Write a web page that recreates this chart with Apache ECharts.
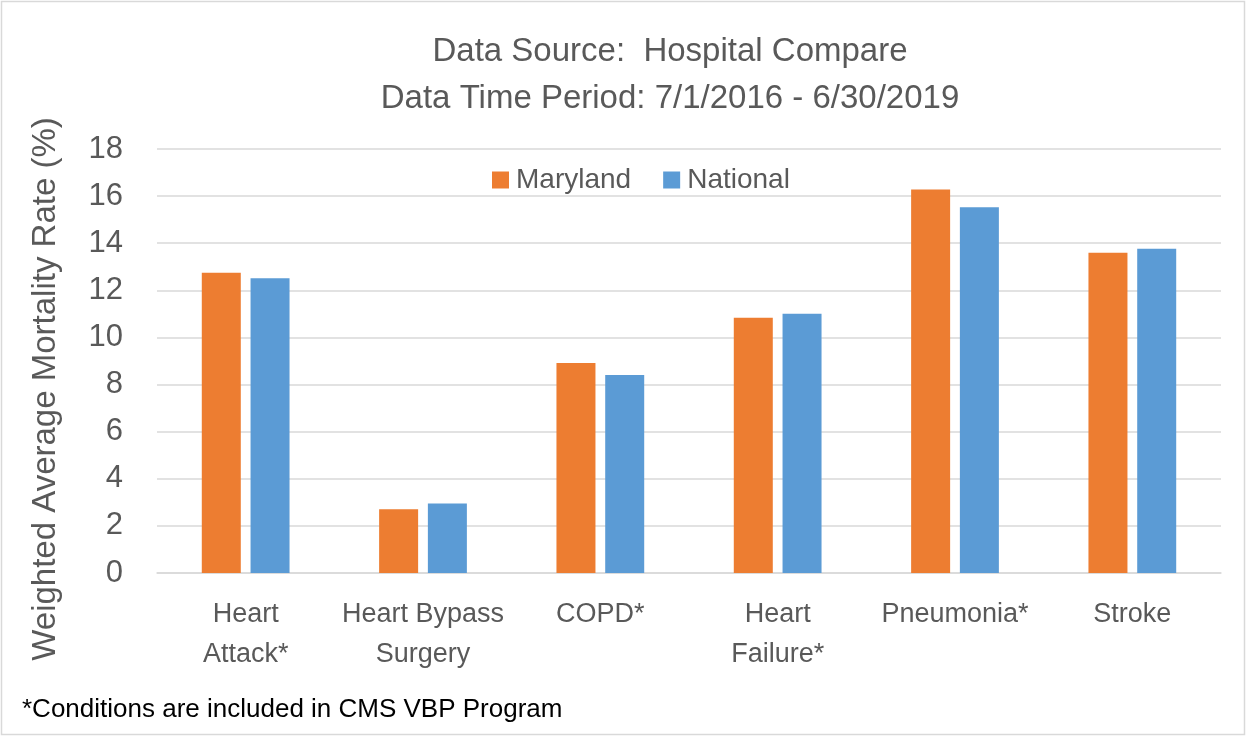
<!DOCTYPE html>
<html>
<head>
<meta charset="utf-8">
<script src="https://cdn.jsdelivr.net/npm/echarts@6/dist/echarts.min.js"></script>
<style>
    html, body { margin: 0; padding: 0; background: #ffffff; }
    #chart { width: 1247px; height: 737px; }
</style>
</head>
<body>
<div id="chart"></div>
<script>
var categories = ['Heart\nAttack*', 'Heart Bypass\nSurgery', 'COPD*', 'Heart\nFailure*', 'Pneumonia*', 'Stroke'];
var maryland = [12.75, 2.71, 8.91, 10.84, 16.28, 13.60];
var national = [12.51, 2.95, 8.41, 11.01, 15.53, 13.77];
var yTicks = [0, 18, 2];   // min, max, interval

var FONT = '"Liberation Sans", Arial, sans-serif';
var GRAY = '#595959';

var chart = echarts.init(document.getElementById('chart'), null, { renderer: 'canvas' });

chart.setOption({
    animation: false,
    backgroundColor: '#ffffff',
    title: {
        text: 'Data Source:  Hospital Compare\nData Time Period: 7/1/2016 - 6/30/2019',
        left: 670,
        top: 28,
        padding: 0,
        textAlign: 'center',
        textStyle: {
            color: GRAY,
            fontFamily: FONT,
            fontSize: 33,
            fontWeight: 'normal',
            lineHeight: 47
        }
    },
    legend: {
        left: 492,
        top: 166,
        padding: 0,
        itemWidth: 17,
        itemHeight: 17,
        itemGap: 32,
        icon: 'rect',
        textStyle: {
            color: GRAY,
            fontFamily: FONT,
            fontSize: 28,
            padding: [0, 0, 0, 2]
        },
        data: ['Maryland', 'National']
    },
    grid: {
        left: 157,
        right: 26,
        top: 149,
        bottom: 164,
        containLabel: false
    },
    xAxis: {
        type: 'category',
        data: categories,
        axisLine: { lineStyle: { color: '#d9d9d9', width: 1.5 } },
        axisTick: { show: false },
        axisLabel: {
            color: GRAY,
            fontFamily: FONT,
            fontSize: 27,
            lineHeight: 40,
            margin: 22,
            interval: 0
        }
    },
    yAxis: {
        type: 'value',
        min: yTicks[0],
        max: yTicks[1],
        interval: yTicks[2],
        axisLine: { show: false },
        axisTick: { show: false },
        splitLine: { lineStyle: { color: '#d9d9d9', width: 1.5 } },
        axisLabel: {
            color: GRAY,
            fontFamily: FONT,
            fontSize: 31,
            margin: 34
        }
    },
    series: [{
        name: 'Maryland',
        type: 'bar',
        data: maryland,
        barWidth: 39,
        barGap: '25%',
        itemStyle: { color: '#ED7D31' }
    }, {
        name: 'National',
        type: 'bar',
        data: national,
        barWidth: 39,
        barGap: '25%',
        itemStyle: { color: '#5B9BD5' }
    }],
    graphic: [{
        type: 'rect',
        shape: { x: 1.5, y: 1.5, width: 1243, height: 733 },
        style: { fill: 'none', stroke: '#d9d9d9', lineWidth: 1.5 },
        silent: true
    }, {
        type: 'text',
        x: 46,
        y: 389,
        rotation: Math.PI / 2,
        style: {
            text: 'Weighted Average Mortality Rate (%)',
            fill: GRAY,
            font: '33px ' + FONT,
            textAlign: 'center',
            textVerticalAlign: 'middle'
        }
    }, {
        type: 'text',
        x: 22,
        y: 710,
        style: {
            text: '*Conditions are included in CMS VBP Program',
            fill: '#000000',
            font: '26px ' + FONT,
            textAlign: 'left',
            textVerticalAlign: 'middle'
        }
    }]
});
</script>
</body>
</html>
